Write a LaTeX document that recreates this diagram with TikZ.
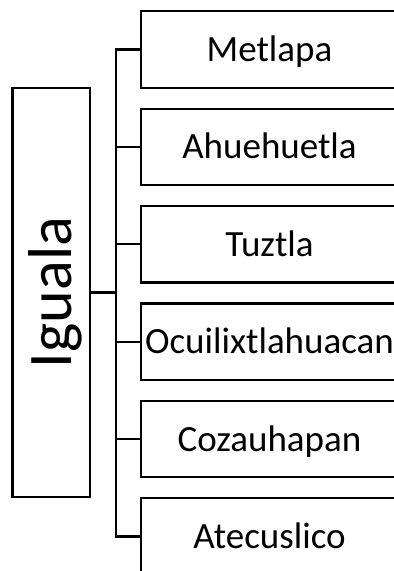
\documentclass[tikz,border=0pt]{standalone}
\usepackage{fontspec}
\setmainfont{Carlito}
\begin{document}
\begin{tikzpicture}[x=1pt,y=1pt,
  line width=2.2pt,
  place/.style={draw, rectangle, inner sep=0pt, minimum width=257pt, minimum height=76.5pt,
    font=\fontsize{37}{40}\selectfont, text height=23.8pt, text depth=0pt},
  rootbox/.style={draw, rectangle, inner sep=0pt, rotate=90, minimum width=409pt, minimum height=77.5pt,
    font=\fontsize{62}{66}\selectfont, text height=39.9pt, text depth=0pt}]
\useasboundingbox (0,0) rectangle (394,-571);
\begin{scope}
\clip (0,0) rectangle (394,-571);
\node[rootbox] (ig) at (51.25,-292.5) {Iguala};
\node[place] (b1) at (269.5,-49.5) {Metlapa};
\node[place] (b2) at (269.5,-146.9) {Ahuehuetla};
\node[place] (b3) at (269.5,-244.3) {Tuztla};
\node[place] (b4) at (269.5,-341.7) {Ocuilixtlahuacan};
\node[place] (b5) at (269.5,-439.1) {Cozauhapan};
\node[place] (b6) at (269.5,-536.5) {Atecuslico};
\coordinate (bt) at (116,-49.5);
\draw (b1.west) -- (b1.west -| bt) -- (b6.west -| bt) -- (b6.west);
\draw (ig.south) -- (ig.south -| bt);
\foreach \b in {b2,b3,b4,b5}{\draw (\b.west) -- (\b.west -| bt);}
\end{scope}
\end{tikzpicture}
\end{document}
